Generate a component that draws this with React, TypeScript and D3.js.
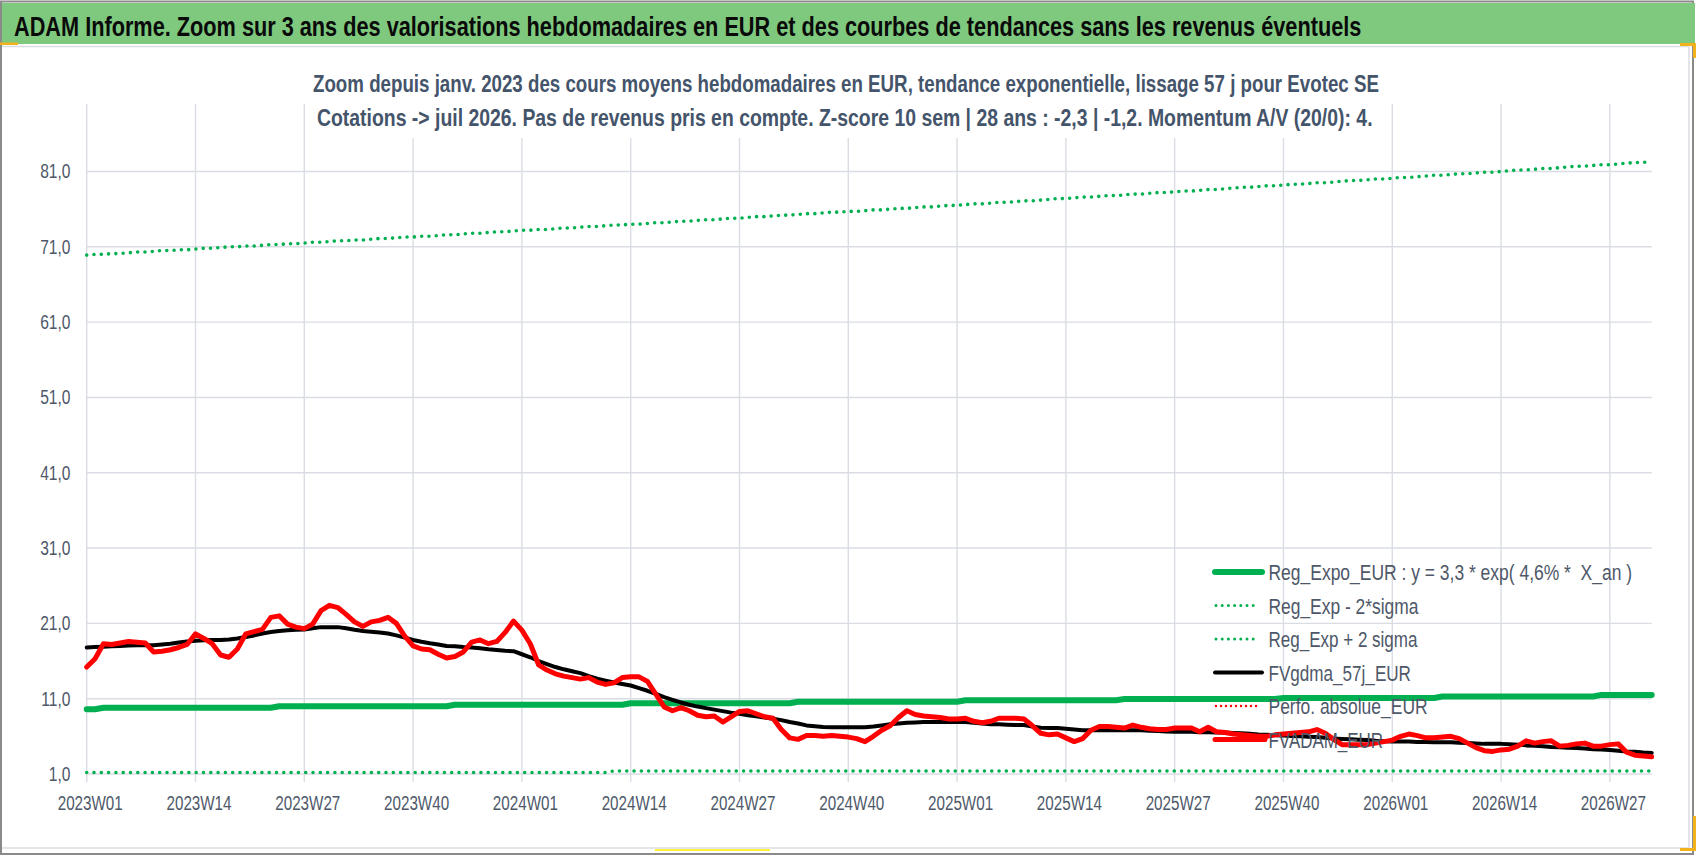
import React, { useLayoutEffect, useRef, useState } from 'react';
import * as d3 from 'd3';

const W = 1698;
const H = 856;

// Categories: ISO weeks from 2023W01 to 2026W32
const YEARS = [2023, 2024, 2025, 2026];
const WEEKS_IN_YEAR = [52, 52, 52, 32];
const WEEKS: string[] = YEARS.flatMap((yr, k) =>
  Array.from({ length: WEEKS_IN_YEAR[k] }, (_, w) => `${yr}W${String(w + 1).padStart(2, '0')}`)
);

const X_TICKS = [
  '2023W01', '2023W14', '2023W27', '2023W40',
  '2024W01', '2024W14', '2024W27', '2024W40',
  '2025W01', '2025W14', '2025W27', '2025W40',
  '2026W01', '2026W14', '2026W27',
];
const Y_TICKS = [1, 11, 21, 31, 41, 51, 61, 71, 81];

const TITLE = 'ADAM Informe. Zoom sur 3 ans des valorisations hebdomadaires en EUR et des courbes de tendances sans les revenus éventuels';
const SUBTITLE_1 = 'Zoom depuis janv. 2023 des cours moyens hebdomadaires en EUR, tendance exponentielle, lissage 57 j pour Evotec SE';
const SUBTITLE_2 = 'Cotations -> juil 2026. Pas de revenus pris en compte. Z-score 10 sem | 28 ans : -2,3 | -1,2. Momentum A/V (20/0): 4.';

const LEGEND_LABELS = [
  'Reg_Expo_EUR : y = 3,3 * exp( 4,6% *  X_an )',
  'Reg_Exp - 2*sigma',
  'Reg_Exp + 2 sigma',
  'FVgdma_57j_EUR',
  'Perfo. absolue_EUR',
  'FVADAM_EUR',
];

// Reg_Expo_EUR (stepped exponential trend)
const REG_EXPO = [
  9.6, 9.6,
  9.8, 9.8, 9.8, 9.8, 9.8, 9.8, 9.8, 9.8, 9.8, 9.8, 9.8, 9.8, 9.8, 9.8, 9.8, 9.8, 9.8, 9.8, 9.8, 9.8, 9.8,
  10.0, 10.0, 10.0, 10.0, 10.0, 10.0, 10.0, 10.0, 10.0, 10.0, 10.0, 10.0, 10.0, 10.0, 10.0, 10.0, 10.0, 10.0, 10.0, 10.0, 10.0,
  10.2, 10.2, 10.2, 10.2, 10.2, 10.2, 10.2, 10.2, 10.2, 10.2, 10.2, 10.2, 10.2, 10.2, 10.2, 10.2, 10.2, 10.2, 10.2, 10.2, 10.2,
  10.4, 10.4, 10.4, 10.4, 10.4, 10.4, 10.4, 10.4, 10.4, 10.4, 10.4, 10.4, 10.4, 10.4, 10.4, 10.4, 10.4, 10.4, 10.4, 10.4,
  10.6, 10.6, 10.6, 10.6, 10.6, 10.6, 10.6, 10.6, 10.6, 10.6, 10.6, 10.6, 10.6, 10.6, 10.6, 10.6, 10.6, 10.6, 10.6, 10.6,
  10.8, 10.8, 10.8, 10.8, 10.8, 10.8, 10.8, 10.8, 10.8, 10.8, 10.8, 10.8, 10.8, 10.8, 10.8, 10.8, 10.8, 10.8, 10.8,
  10.95, 10.95, 10.95, 10.95, 10.95, 10.95, 10.95, 10.95, 10.95, 10.95, 10.95, 10.95, 10.95, 10.95, 10.95, 10.95, 10.95, 10.95, 10.95,
  11.1, 11.1, 11.1, 11.1, 11.1, 11.1, 11.1, 11.1, 11.1, 11.1, 11.1, 11.1, 11.1, 11.1, 11.1, 11.1, 11.1, 11.1, 11.1,
  11.3, 11.3, 11.3, 11.3, 11.3, 11.3, 11.3, 11.3, 11.3, 11.3, 11.3, 11.3, 11.3, 11.3, 11.3, 11.3, 11.3, 11.3, 11.3,
  11.5, 11.5, 11.5, 11.5, 11.5, 11.5, 11.5,
];

// Reg_Exp - 2*sigma
const REG_MINUS = [
  1.2, 1.2, 1.2, 1.2, 1.2, 1.2, 1.2, 1.2, 1.2, 1.2, 1.2, 1.2, 1.2, 1.2, 1.2, 1.2, 1.2, 1.2, 1.2, 1.2, 1.2,
  1.2, 1.2, 1.2, 1.2, 1.2, 1.2, 1.2, 1.2, 1.2, 1.2, 1.2, 1.2, 1.2, 1.2, 1.2, 1.2, 1.2, 1.2, 1.2, 1.2, 1.2,
  1.2, 1.2, 1.2, 1.2, 1.2, 1.2, 1.2, 1.2, 1.2, 1.2, 1.2, 1.2, 1.2, 1.2, 1.2, 1.2, 1.2, 1.2, 1.2, 1.2, 1.2,
  1.4, 1.4, 1.4, 1.4, 1.4, 1.4, 1.4, 1.4, 1.4, 1.4, 1.4, 1.4, 1.4, 1.4, 1.4, 1.4, 1.4, 1.4, 1.4, 1.4, 1.4, 1.4, 1.4, 1.4, 1.4,
  1.4, 1.4, 1.4, 1.4, 1.4, 1.4, 1.4, 1.4, 1.4, 1.4, 1.4, 1.4, 1.4, 1.4, 1.4, 1.4, 1.4, 1.4, 1.4, 1.4, 1.4, 1.4, 1.4, 1.4, 1.4,
  1.4, 1.4, 1.4, 1.4, 1.4, 1.4, 1.4, 1.4, 1.4, 1.4, 1.4, 1.4, 1.4, 1.4, 1.4, 1.4, 1.4, 1.4, 1.4, 1.4, 1.4, 1.4, 1.4, 1.4, 1.4,
  1.4, 1.4, 1.4, 1.4, 1.4, 1.4, 1.4, 1.4, 1.4, 1.4, 1.4, 1.4, 1.4, 1.4, 1.4, 1.4, 1.4, 1.4, 1.4, 1.4, 1.4, 1.4, 1.4, 1.4, 1.4,
  1.4, 1.4, 1.4, 1.4, 1.4, 1.4, 1.4, 1.4, 1.4, 1.4, 1.4, 1.4, 1.4, 1.4, 1.4, 1.4, 1.4, 1.4, 1.4, 1.4, 1.4, 1.4, 1.4, 1.4, 1.4,
];

// Reg_Exp + 2 sigma
const REG_PLUS = [
  69.9, 70.0, 70.0, 70.1, 70.1, 70.2, 70.3, 70.3, 70.4, 70.5, 70.5, 70.6, 70.6, 70.7,
  70.8, 70.8, 70.9, 71.0, 71.0, 71.1, 71.1, 71.2, 71.3, 71.3, 71.4, 71.4, 71.5,
  71.6, 71.6, 71.7, 71.8, 71.8, 71.9, 71.9, 72.0, 72.1, 72.1, 72.2, 72.3, 72.3,
  72.4, 72.4, 72.5, 72.6, 72.6, 72.7, 72.8, 72.8, 72.9, 73.0, 73.0, 73.1, 73.2,
  73.2, 73.3, 73.3, 73.4, 73.5, 73.5, 73.6, 73.7, 73.7, 73.8, 73.9, 73.9, 74.0,
  74.0, 74.1, 74.2, 74.2, 74.3, 74.4, 74.4, 74.5, 74.6, 74.6, 74.7, 74.8, 74.8,
  74.9, 75.0, 75.0, 75.1, 75.2, 75.2, 75.3, 75.4, 75.4, 75.5, 75.6, 75.6, 75.7,
  75.7, 75.8, 75.9, 75.9, 76.0, 76.1, 76.1, 76.2, 76.3, 76.3, 76.4, 76.5, 76.5,
  76.6, 76.7, 76.7, 76.8, 76.9, 76.9, 77.0, 77.1, 77.1, 77.2, 77.3, 77.4, 77.4,
  77.5, 77.6, 77.6, 77.7, 77.8, 77.8, 77.9, 78.0, 78.0, 78.1, 78.2, 78.2, 78.3,
  78.4, 78.4, 78.5, 78.6, 78.6, 78.7, 78.8, 78.9, 78.9, 79.0, 79.1, 79.1, 79.2,
  79.3, 79.3, 79.4, 79.5, 79.5, 79.6, 79.7, 79.8, 79.8, 79.9, 80.0, 80.0, 80.1,
  80.2, 80.2, 80.3, 80.4, 80.5, 80.5, 80.6, 80.7, 80.7, 80.8, 80.9, 80.9, 81.0,
  81.1, 81.2, 81.2, 81.3, 81.4, 81.4, 81.5, 81.6, 81.7, 81.7, 81.8, 81.9, 81.9,
  82.0, 82.1, 82.2, 82.2, 82.3,
];

// FVgdma_57j_EUR (smoothed)
const FVGDMA = [
  17.8, 17.85, 17.9, 17.95, 18.0, 18.05, 18.1, 18.1, 18.1, 18.2,
  18.3, 18.45, 18.6, 18.7, 18.75, 18.8, 18.8, 18.85, 19.0, 19.2,
  19.4, 19.65, 19.85, 20.0, 20.1, 20.15, 20.2, 20.35, 20.5, 20.5,
  20.5, 20.35, 20.15, 20.0, 19.9, 19.8, 19.65, 19.4, 19.1, 18.8,
  18.55, 18.35, 18.2, 18.0, 17.95, 17.85, 17.8, 17.7, 17.55, 17.45,
  17.35, 17.3, 16.9, 16.5, 16.0, 15.6, 15.2, 14.9, 14.65, 14.4,
  14.0, 13.65, 13.4, 13.15, 12.95, 12.75, 12.4, 12.05, 11.65, 11.2,
  10.85, 10.5, 10.2, 9.95, 9.75, 9.55, 9.35, 9.15, 9.0, 8.8,
  8.65, 8.5, 8.35, 8.15, 7.9, 7.7, 7.45, 7.35, 7.25, 7.2,
  7.2, 7.2, 7.2, 7.2, 7.3, 7.45, 7.6, 7.7, 7.8, 7.85,
  7.9, 7.9, 7.9, 7.9, 7.9, 7.9, 7.8, 7.7, 7.6, 7.6,
  7.55, 7.5, 7.5, 7.3, 7.15, 7.1, 7.1, 7.0, 6.9, 6.8,
  6.8, 6.8, 6.8, 6.8, 6.8, 6.8, 6.8, 6.75, 6.7, 6.65,
  6.6, 6.6, 6.6, 6.55, 6.55, 6.5, 6.5, 6.45, 6.4, 6.35,
  6.25, 6.2, 6.15, 6.1, 6.05, 6.0, 5.95, 5.9, 5.8, 5.7,
  5.65, 5.6, 5.55, 5.5, 5.4, 5.35, 5.3, 5.3, 5.3, 5.25,
  5.25, 5.2, 5.2, 5.2, 5.15, 5.1, 5.05, 5.0, 5.0, 5.0,
  4.95, 4.9, 4.8, 4.75, 4.7, 4.6, 4.55, 4.5, 4.45, 4.4,
  4.3, 4.25, 4.2, 4.1, 4.0, 3.95, 3.85, 3.8,
];

// FVADAM_EUR (weekly average price)
const FVADAM = [
  15.2, 16.3, 18.3, 18.2, 18.4, 18.6, 18.5, 18.4, 17.2, 17.3,
  17.5, 17.8, 18.2, 19.6, 19.0, 18.3, 16.8, 16.5, 17.6, 19.6,
  19.9, 20.2, 21.8, 22.0, 20.9, 20.5, 20.3, 20.9, 22.7, 23.4,
  23.1, 22.2, 21.2, 20.6, 21.2, 21.4, 21.8, 21.0, 19.3, 18.0,
  17.6, 17.5, 16.9, 16.4, 16.6, 17.2, 18.5, 18.8, 18.3, 18.6,
  19.8, 21.3, 20.1, 18.3, 15.5, 14.8, 14.3, 14.0, 13.8, 13.6,
  13.8, 13.2, 12.9, 13.1, 13.8, 13.9, 13.9, 13.3, 11.6, 9.9,
  9.4, 9.8, 9.4, 8.8, 8.6, 8.7, 7.9, 8.6, 9.3, 9.4,
  9.0, 8.6, 8.4, 6.9, 5.8, 5.6, 6.1, 6.1, 6.0, 6.1,
  6.0, 5.9, 5.7, 5.3, 6.0, 6.8, 7.4, 8.5, 9.4, 8.9,
  8.7, 8.6, 8.5, 8.3, 8.3, 8.4, 8.0, 7.8, 8.0, 8.4,
  8.4, 8.4, 8.3, 7.4, 6.4, 6.2, 6.3, 5.8, 5.3, 5.7,
  6.8, 7.3, 7.3, 7.2, 7.1, 7.5, 7.2, 7.0, 6.9, 6.9,
  7.1, 7.1, 7.1, 6.6, 7.2, 6.6, 6.5, 6.3, 6.2, 6.1,
  6.0, 6.0, 6.2, 6.3, 6.4, 6.5, 6.6, 6.9, 6.4, 5.6,
  4.9, 4.9, 4.9, 4.9, 5.1, 5.3, 5.5, 6.0, 6.3, 6.1,
  5.8, 5.8, 5.9, 6.0, 5.7, 5.1, 4.5, 4.1, 4.0, 4.2,
  4.3, 4.7, 5.4, 5.1, 5.3, 5.4, 4.7, 4.8, 5.0, 5.1,
  4.7, 4.7, 4.9, 5.0, 3.9, 3.5, 3.4, 3.3,
];

const GREEN = '#00B050';
const RED = '#FF0000';
const GRID = '#D9DDE3';
const TXT = '#4E5869';
const FONT = "'Liberation Sans', Arial, sans-serif";

// Text squeezed horizontally (like a condensed font) to a target width
function FitText(props: {
  x: number;
  y: number;
  width: number;
  fontSize: number;
  fill: string;
  bold?: boolean;
  children: string;
}) {
  const ref = useRef<SVGTextElement>(null);
  const [sx, setSx] = useState(0.78);
  useLayoutEffect(() => {
    if (ref.current) {
      const w = ref.current.getComputedTextLength();
      if (w > 0) setSx(props.width / w);
    }
  }, [props.width, props.children, props.fontSize]);
  return (
    <text
      ref={ref}
      transform={`translate(${props.x},${props.y}) scale(${sx},1)`}
      fontSize={props.fontSize}
      fontWeight={props.bold ? 'bold' : 'normal'}
      fill={props.fill}
      style={{ whiteSpace: 'pre' }}
    >
      {props.children}
    </text>
  );
}

export default function App() {
  const x = d3.scalePoint<string>().domain(WEEKS).range([86.7, 1651.7]).padding(0);
  const y = d3.scaleLinear().domain([1, 90]).range([774, 103.7]);
  const line = d3
    .line<number>()
    .x((_, i) => x(WEEKS[i]) as number)
    .y((d) => y(d));

  const plotLeft = 86.7;
  const plotRight = 1651.7;
  const plotTop = y(90);
  const plotBottom = y(1);

  const legendY0 = 572;
  const legendStep = 33.5;
  const legendWidths = [363.5, 150, 149, 142.5, 159, 114.5];

  return (
    <svg
      width={W}
      height={H}
      viewBox={`0 0 ${W} ${H}`}
      style={{ position: 'absolute', left: 0, top: 0, background: '#fff' }}
      fontFamily={FONT}
    >
      <rect x={0} y={0} width={W} height={H} fill="#fff" />
      {/* outer frame */}
      <rect x={1} y={1.5} width={1692} height={852.5} fill="#fff" stroke="#8a8a8a" strokeWidth={2} />
      {/* title bar */}
      <rect x={2} y={3} width={1693} height={41} fill="#7FC97F" />
      <FitText x={14} y={35.5} width={1347} fontSize={28.5} fill="#0a0a0a" bold>
        {TITLE}
      </FitText>
      {/* inner chart-area border */}
      <line x1={2} x2={1689} y1={46.5} y2={46.5} stroke="#DADDE2" strokeWidth={1.5} />
      <line x1={1689} x2={1689} y1={46.5} y2={848} stroke="#DADDE2" strokeWidth={1.5} />
      <line x1={2} x2={1689} y1={848} y2={848} stroke="#DADDE2" strokeWidth={1.5} />

      {/* horizontal gridlines */}
      {Y_TICKS.map((t) => (
        <line key={'h' + t} x1={plotLeft} x2={plotRight} y1={y(t)} y2={y(t)} stroke={GRID} strokeWidth={1.4} />
      ))}
      {/* vertical gridlines */}
      {X_TICKS.map((t) => (
        <line
          key={'v' + t}
          x1={x(t) as number}
          x2={x(t) as number}
          y1={plotTop}
          y2={plotBottom + 8}
          stroke={GRID}
          strokeWidth={1.4}
        />
      ))}

      {/* subtitle box (white background hiding gridlines) */}
      <rect x={306} y={60} width={1082} height={78} fill="#fff" />
      <FitText x={313} y={92} width={1066} fontSize={24} fill="#44546A" bold>
        {SUBTITLE_1}
      </FitText>
      <FitText x={317} y={125.5} width={1056} fontSize={24} fill="#44546A" bold>
        {SUBTITLE_2}
      </FitText>

      {/* y tick labels */}
      {Y_TICKS.map((t) => (
        <text
          key={'yl' + t}
          transform={`translate(70.5,${y(t) + 7}) scale(0.8,1)`}
          textAnchor="end"
          fontSize={19.5}
          fill={TXT}
        >
          {d3.format('.1f')(t).replace('.', ',')}
        </text>
      ))}
      {/* x tick labels */}
      {X_TICKS.map((t) => (
        <text
          key={'xl' + t}
          transform={`translate(${(x(t) as number) + 3.5},810) scale(0.78,1)`}
          textAnchor="middle"
          fontSize={19.5}
          fill={TXT}
        >
          {t}
        </text>
      ))}

      {/* series */}
      <path d={line(REG_EXPO) || ''} fill="none" stroke={GREEN} strokeWidth={6} strokeLinejoin="round" strokeLinecap="round" />
      <path d={line(REG_MINUS) || ''} fill="none" stroke={GREEN} strokeWidth={3.6} strokeDasharray="0 7.3" strokeLinecap="round" />
      <path d={line(REG_PLUS) || ''} fill="none" stroke={GREEN} strokeWidth={3.6} strokeDasharray="0 7.3" strokeLinecap="round" />
      <path d={line(FVGDMA) || ''} fill="none" stroke="#000" strokeWidth={4} strokeLinejoin="round" strokeLinecap="round" />
      <path d={line(FVADAM) || ''} fill="none" stroke={RED} strokeWidth={5} strokeLinejoin="round" strokeLinecap="round" />

      {/* legend */}
      {LEGEND_LABELS.map((lab, i) => {
        const ly = legendY0 + i * legendStep;
        let marker: React.ReactNode = null;
        if (i === 0) marker = <line x1={1215} x2={1262} y1={ly} y2={ly} stroke={GREEN} strokeWidth={6} strokeLinecap="round" />;
        else if (i === 1 || i === 2)
          marker = <line x1={1216} x2={1258} y1={ly} y2={ly} stroke={GREEN} strokeWidth={3} strokeDasharray="0 6.2" strokeLinecap="round" />;
        else if (i === 3) marker = <line x1={1215} x2={1262} y1={ly} y2={ly} stroke="#000" strokeWidth={4} strokeLinecap="round" />;
        else if (i === 4)
          marker = <line x1={1216} x2={1261} y1={ly} y2={ly} stroke={RED} strokeWidth={2.4} strokeDasharray="0 5" strokeLinecap="round" />;
        else marker = <line x1={1215} x2={1265} y1={ly} y2={ly} stroke={RED} strokeWidth={5} strokeLinecap="round" />;
        return (
          <g key={'lg' + i}>
            {marker}
            <FitText x={1268.5} y={ly + 8} width={legendWidths[i]} fontSize={21.5} fill={TXT}>
              {lab}
            </FitText>
          </g>
        );
      })}

      {/* selection handles */}
      <rect x={0} y={42.5} width={18} height={2.5} fill="#F2B21B" />
      <rect x={1680} y={43} width={16} height={3} fill="#F2B21B" />
      <rect x={1693} y={43} width={3} height={15} fill="#F2B21B" />
      <rect x={1693} y={816} width={3} height={35} fill="#F2B21B" />
      <rect x={1680} y={848} width={16} height={3} fill="#F2B21B" />
      <rect x={655} y={849} width={115} height={2} fill="#FFF23A" />
    </svg>
  );
}
